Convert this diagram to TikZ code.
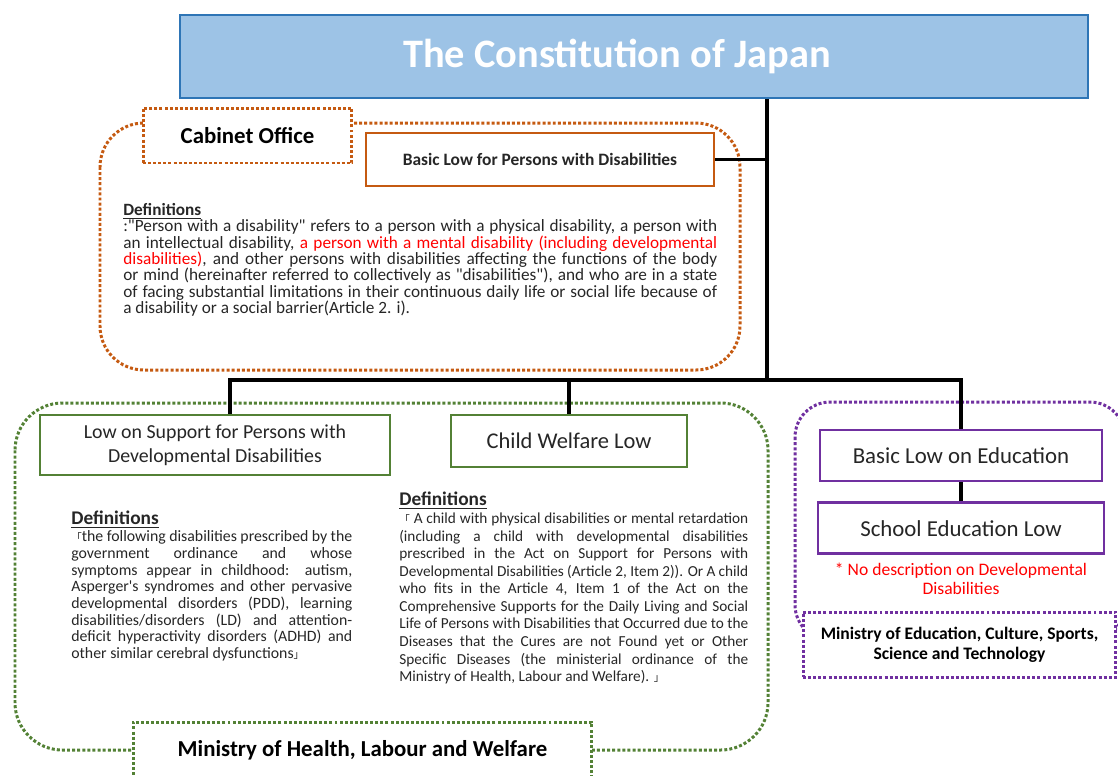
\documentclass[tikz,border=0pt]{standalone}
\usepackage{fontspec}
\setmainfont{Carlito}[Ligatures=TeXOff]
\newfontfamily\cjk{Noto Sans CJK JP}
\usepackage{tikz}
\usetikzlibrary{positioning}

\definecolor{titleblue}{HTML}{9DC3E6}
\definecolor{titleedge}{HTML}{2E75B6}
\definecolor{cabinetorange}{HTML}{C55A11}
\definecolor{healthgreen}{HTML}{538135}
\definecolor{edupurple}{HTML}{7030A0}
\definecolor{notered}{HTML}{FF0000}
\definecolor{bodytext}{HTML}{262626}

\setlength{\lineskiplimit}{-10pt}
\newcommand{\opencorner}{{\cjk\fontsize{6}{6}\selectfont 「}}
\newcommand{\closecorner}{{\cjk\fontsize{6}{6}\selectfont 」}}

\tikzset{
    zone/.style={line width=1.7pt, dash pattern=on 1.7pt off 1.2pt},
    ministry/.style={draw, fill=white, line width=1.7pt, dash pattern=on 1.7pt off 1.2pt, align=center, text=black},
    lawbox/.style={draw, fill=white, line width=1.6pt, align=center, text=bodytext},
    defs/.style={anchor=north west, align=justify, inner sep=0pt, text=bodytext},
    link/.style={line width=1.8pt, black}
}

\begin{document}
\begin{tikzpicture}[x=0.02cm, y=-0.02cm]
    \useasboundingbox (0,0) rectangle (1118,775);

    % Areas of the ministries
    \draw[zone, cabinetorange, rounded corners=25pt] (100,123) rectangle (740,370);
    \draw[zone, healthgreen, rounded corners=27pt] (15,403) rectangle (768,750);
    \draw[zone, edupurple, rounded corners=20pt] (795,402) rectangle (1125,640);

    % The Constitution
    \node[draw=titleedge, fill=titleblue, line width=1.5pt, minimum width=18.16cm, minimum height=1.66cm,
          text=white, font=\fontsize{23}{27}\selectfont\bfseries] (constitution) at (634,56.5)
          {The Constitution of Japan\hspace*{0.68cm}};

    % Cabinet Office
    \node[ministry, draw=cabinetorange, minimum width=4.18cm, minimum height=1.1cm,
          font=\fontsize{13}{15}\selectfont\bfseries] (cabinet) at (247.5,135.5) {Cabinet Office};
    \node[lawbox, draw=cabinetorange, minimum width=6.96cm, minimum height=1.06cm,
          font=\fontsize{9.9}{12}\selectfont\bfseries] (basiclaw) at (540,159.5) {Basic Low for Persons with Disabilities};
    \node[defs, text width=11.88cm, font=\fontsize{9.8}{9.3}\selectfont] (basicdefs) at (123,203) {%
        \underline{\textbf{Definitions}}\\
        :"Person with a disability" refers to a person with a physical disability, a person with\linebreak
        an intellectual disability, \textcolor{notered}{a person with a mental disability (including developmental\linebreak
        disabilities)}, and other persons with disabilities affecting the functions of the body\linebreak
        or mind (hereinafter referred to collectively as "disabilities"), and who are in a state\linebreak
        of facing substantial limitations in their continuous daily life or social life because of\linebreak
        a disability or a social barrier(Article 2. i).};

    % Ministry of Health, Labour and Welfare
    \node[lawbox, draw=healthgreen, minimum width=7cm, minimum height=1.2cm,
          font=\fontsize{11.3}{13.5}\selectfont] (supportlaw) at (215,445)
          {Low on Support for Persons with\\Developmental Disabilities};
    \node[lawbox, draw=healthgreen, minimum width=4.72cm, minimum height=1.04cm,
          font=\fontsize{12.8}{15}\selectfont] (childlaw) at (569,441) {Child Welfare Low};
    \node[defs, text width=5.62cm, font=\fontsize{9}{9.5}\selectfont] (supportdefs) at (71,511) {%
        {\fontsize{11}{12}\selectfont\underline{\textbf{Definitions}}}\\
        \opencorner the following disabilities prescribed by the\linebreak
        government ordinance and whose\linebreak
        symptoms appear in childhood: autism,\linebreak
        Asperger's syndromes and other pervasive\linebreak
        developmental disorders (PDD), learning\linebreak
        disabilities/disorders (LD) and attention-\linebreak
        deficit hyperactivity disorders (ADHD) and\linebreak
        other similar cerebral dysfunctions\closecorner};
    \node[defs, text width=6.98cm, font=\fontsize{8.7}{10}\selectfont] (childdefs) at (399,492) {%
        {\fontsize{11}{12}\selectfont\underline{\textbf{Definitions}}}\\
        \opencorner{} A child with physical disabilities or mental retardation\linebreak
        (including a child with developmental disabilities\linebreak
        prescribed in the Act on Support for Persons with\linebreak
        Developmental Disabilities (Article 2, Item 2)). Or A child\linebreak
        who fits in the Article 4, Item 1 of the Act on the\linebreak
        Comprehensive Supports for the Daily Living and Social\linebreak
        Life of Persons with Disabilities that Occurred due to the\linebreak
        Diseases that the Cures are not Found yet or Other\linebreak
        Specific Diseases (the ministerial ordinance of the\linebreak
        Ministry of Health, Labour and Welfare). \closecorner};
    \node[ministry, draw=healthgreen, minimum width=9.18cm, minimum height=1.12cm,
          font=\fontsize{13}{15}\selectfont\bfseries] (health) at (362.5,750) {Ministry of Health, Labour and Welfare};

    % Ministry of Education
    \node[lawbox, draw=edupurple, minimum width=5.64cm, minimum height=1.02cm,
          font=\fontsize{13}{15}\selectfont] (edulaw) at (961,455.5) {Basic Low on Education};
    \node[lawbox, draw=edupurple, minimum width=5.72cm, minimum height=1.02cm,
          font=\fontsize{13}{15}\selectfont, below=0.38cm of edulaw] (schoollaw) {School Education Low};
    \node[text=notered, align=center, font=\fontsize{10}{10.5}\selectfont,
          below=0.04cm of schoollaw] (note) {* No description on Developmental\\Disabilities};
    \node[ministry, draw=edupurple, minimum width=6.26cm, minimum height=1.3cm,
          font=\fontsize{10}{11.3}\selectfont\bfseries] (education) at (959.5,644.5)
          {Ministry of Education, Culture, Sports,\\Science and Technology};

    % Links
    \coordinate (hub) at (767,380);
    \draw[link] (constitution.south -| hub) -- (hub);
    \draw[link] (basiclaw.east) -- (basiclaw.east -| hub);
    \draw[link] ([xshift=0.3cm]supportlaw.north) |- (hub) -| (edulaw.north);
    \draw[link] (childlaw.north) -- (childlaw.north |- hub);
    \draw[link] (edulaw.south) -- (schoollaw.north);
\end{tikzpicture}
\end{document}
